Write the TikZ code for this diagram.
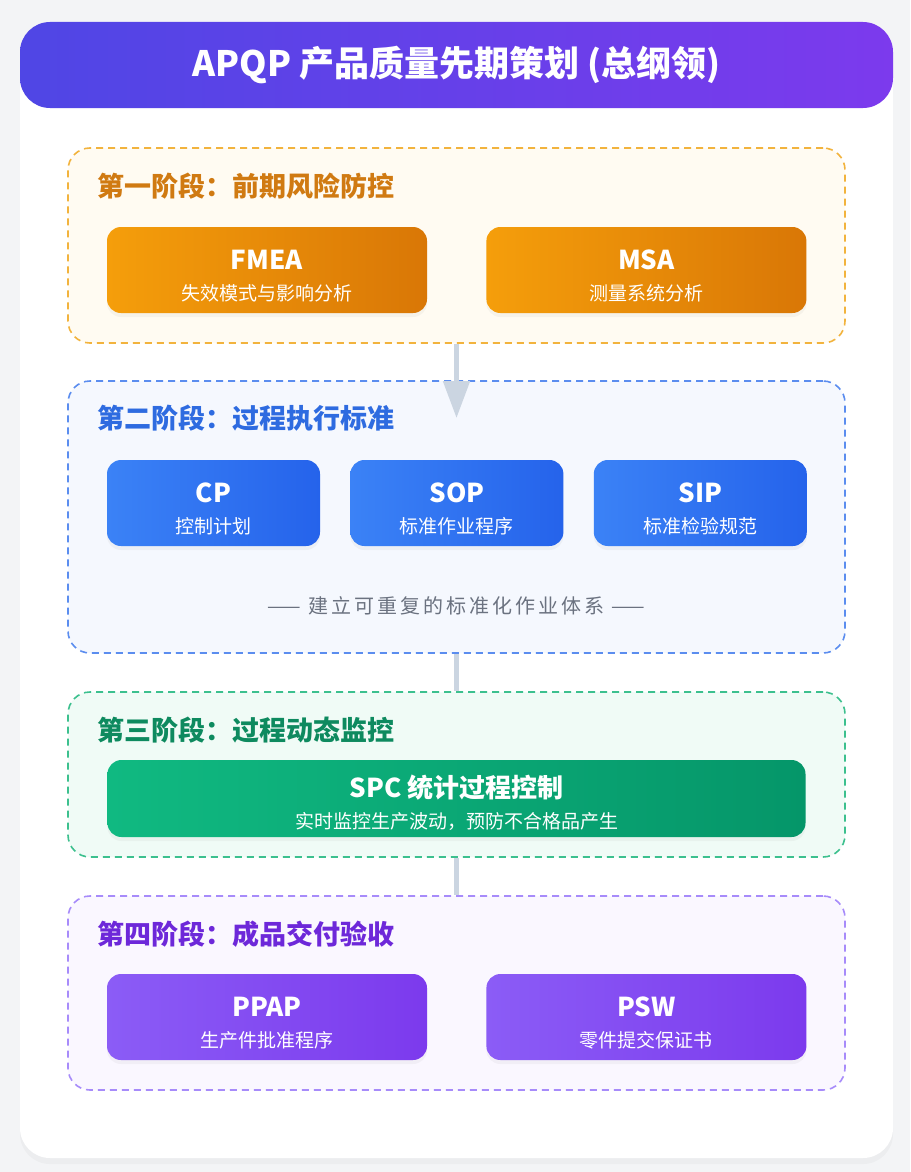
\documentclass[tikz,border=0pt]{standalone}
\usepackage{fontspec}
\setmainfont{Noto Sans CJK SC}
\usetikzlibrary{arrows.meta,positioning,shadows}

\definecolor{pageBg}{HTML}{F3F4F6}
\definecolor{bannerL}{HTML}{4F46E5}
\definecolor{bannerR}{HTML}{7C3AED}
\definecolor{linkGray}{HTML}{CBD5E1}
\definecolor{noteGray}{HTML}{6B7280}
% stage colours
\definecolor{orgLine}{HTML}{F2B33D}
\definecolor{orgFill}{HTML}{FFFBF2}
\definecolor{orgText}{HTML}{D07A12}
\definecolor{orgL}{HTML}{F59E0B}
\definecolor{orgR}{HTML}{D97706}
\definecolor{bluLine}{HTML}{5B8DEF}
\definecolor{bluFill}{HTML}{F5F8FE}
\definecolor{bluText}{HTML}{2E6BE0}
\definecolor{bluL}{HTML}{3B82F6}
\definecolor{bluR}{HTML}{2563EB}
\definecolor{grnLine}{HTML}{3CC08E}
\definecolor{grnFill}{HTML}{F0FBF6}
\definecolor{grnText}{HTML}{0E8A5F}
\definecolor{grnL}{HTML}{10B981}
\definecolor{grnR}{HTML}{059669}
\definecolor{purLine}{HTML}{A78BFA}
\definecolor{purFill}{HTML}{FAF7FF}
\definecolor{purText}{HTML}{6D28D9}
\definecolor{purL}{HTML}{8B5CF6}
\definecolor{purR}{HTML}{7C3AED}

\newcommand{\tooltext}[2]{{\rule{0pt}{31pt}\fontsize{26}{26}\selectfont\bfseries #1}\\[12pt]#2}

\begin{document}
\begin{tikzpicture}[
    x=1pt, y=-1pt,
    phasebox/.style 2 args={draw=#1, fill=#2, line width=1.6pt, dash pattern=on 7pt off 5pt, rounded corners=22pt, minimum width=777pt},
    heading/.style={anchor=west, font=\fontsize{27}{27}\selectfont\bfseries},
    toolbox/.style 2 args={rounded corners=14pt, left color=#1, right color=#2, text=white, align=center, minimum height=86pt, font=\fontsize{19}{19}\selectfont, drop shadow={shadow xshift=0pt, shadow yshift=-4pt, opacity=0.07}},
    link/.style={draw=linkGray, line width=5pt},
    arrow/.style={link, -{Triangle[width=26pt, length=37pt]}}
]
    \useasboundingbox[fill=pageBg] (0,0) rectangle (910,1172);
    \node[fill=white, rounded corners=30pt, minimum width=873pt, minimum height=1136pt, drop shadow={shadow xshift=0pt, shadow yshift=-6pt, opacity=0.06}] (card) at (456.5,590) {};
    \node[rounded corners=30pt, left color=bannerL, right color=bannerR, text=white, minimum width=873pt, minimum height=86pt, font=\fontsize{35}{35}\selectfont\bfseries] (banner) at (456.5,65) {APQP 产品质量先期策划 (总纲领)};

    % four stages
    \node[phasebox={orgLine}{orgFill}, minimum height=195pt] (phase1) at (456.5,245.5) {};
    \node[phasebox={bluLine}{bluFill}, minimum height=272pt] (phase2) at (456.5,517) {};
    \node[phasebox={grnLine}{grnFill}, minimum height=165pt] (phase3) at (456.5,774.5) {};
    \node[phasebox={purLine}{purFill}, minimum height=194pt] (phase4) at (456.5,993) {};

    \draw[arrow] (phase1.south) -- (456.5,418);
    \draw[link] (phase2.south) -- (phase3.north);
    \draw[link] (phase3.south) -- (phase4.north);

    \node[heading, text=orgText] (head1) at ([xshift=27pt, yshift=-39pt]phase1.north west) {第一阶段：前期风险防控};
    \node[heading, text=bluText] (head2) at ([xshift=27pt, yshift=-38pt]phase2.north west) {第二阶段：过程执行标准};
    \node[heading, text=grnText] (head3) at ([xshift=27pt, yshift=-39pt]phase3.north west) {第三阶段：过程动态监控};
    \node[heading, text=purText] (head4) at ([xshift=27pt, yshift=-39pt]phase4.north west) {第四阶段：成品交付验收};

    \node[toolbox={orgL}{orgR}, minimum width=320pt] (fmea) at (267,270) {\tooltext{FMEA}{失效模式与影响分析}};
    \node[toolbox={orgL}{orgR}, minimum width=320pt, right=59pt of fmea] (msa) {\tooltext{MSA}{测量系统分析}};

    \node[toolbox={bluL}{bluR}, minimum width=213pt] (cp) at (213.5,503) {\tooltext{CP}{控制计划}};
    \node[toolbox={bluL}{bluR}, minimum width=213pt, right=30pt of cp] (sop) {\tooltext{SOP}{标准作业程序}};
    \node[toolbox={bluL}{bluR}, minimum width=213pt, right=30pt of sop] (sip) {\tooltext{SIP}{标准检验规范}};
    \node[text=noteGray, font=\fontsize{20}{20}\selectfont\addfontfeature{LetterSpace=15}] (note) at (456.5,606) {—— 建立可重复的标准化作业体系 ——};

    \node[toolbox={grnL}{grnR}, minimum width=698pt, minimum height=77pt] (spc) at (456.5,798.5) {\tooltext{SPC 统计过程控制}{实时监控生产波动，预防不合格品产生}};

    \node[toolbox={purL}{purR}, minimum width=320pt] (ppap) at (267,1017) {\tooltext{PPAP}{生产件批准程序}};
    \node[toolbox={purL}{purR}, minimum width=320pt, right=59pt of ppap] (psw) {\tooltext{PSW}{零件提交保证书}};
\end{tikzpicture}
\end{document}
